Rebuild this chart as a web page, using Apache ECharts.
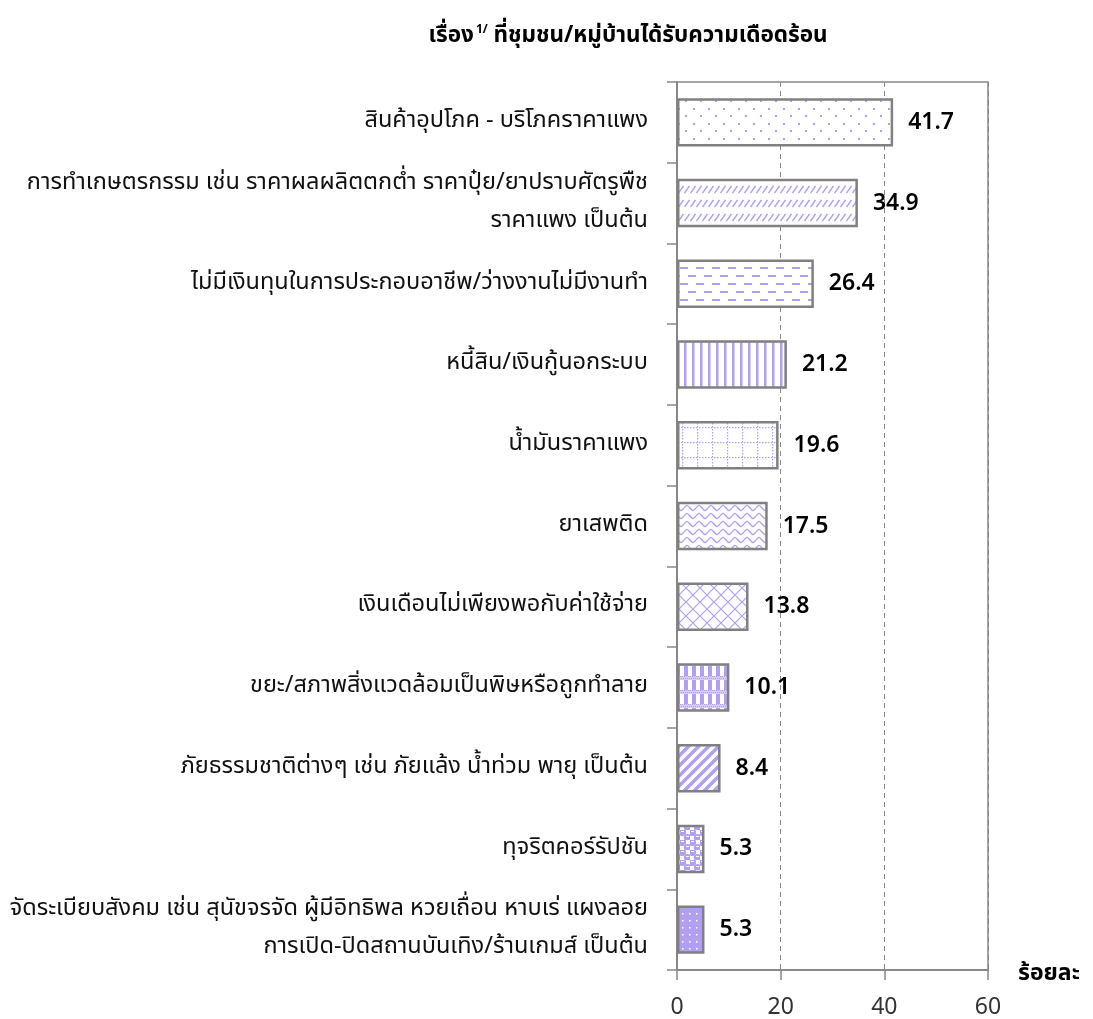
<!DOCTYPE html>
<html>
<head>
<meta charset="utf-8">
<script src="https://cdn.jsdelivr.net/npm/echarts@6/dist/echarts.min.js"></script>
<style>html,body{margin:0;padding:0;background:#fff}#c{width:1093px;height:1019px}</style>
</head>
<body>
<div id="c"></div>
<script>
const categories = [
  'สินค้าอุปโภค - บริโภคราคาแพง',
  'การทำเกษตรกรรม เช่น ราคาผลผลิตตกต่ำ ราคาปุ๋ย/ยาปราบศัตรูพืช\nราคาแพง เป็นต้น',
  'ไม่มีเงินทุนในการประกอบอาชีพ/ว่างงานไม่มีงานทำ',
  'หนี้สิน/เงินกู้นอกระบบ',
  'น้ำมันราคาแพง',
  'ยาเสพติด',
  'เงินเดือนไม่เพียงพอกับค่าใช้จ่าย',
  'ขยะ/สภาพสิ่งแวดล้อมเป็นพิษหรือถูกทำลาย',
  'ภัยธรรมชาติต่างๆ เช่น ภัยแล้ง น้ำท่วม พายุ เป็นต้น',
  'ทุจริตคอร์รัปชัน',
  'จัดระเบียบสังคม เช่น สุนัขจรจัด ผู้มีอิทธิพล หวยเถื่อน หาบเร่ แผงลอย\nการเปิด-ปิดสถานบันเทิง/ร้านเกมส์ เป็นต้น'
];
const values = [41.7, 34.9, 26.4, 21.2, 19.6, 17.5, 13.8, 10.1, 8.4, 5.3, 5.3];
const xTicks = [0, 20, 40, 60];

const P = '#b39ff2';
function tile(w, h, draw) {
  const c = document.createElement('canvas');
  c.width = w; c.height = h;
  const g = c.getContext('2d');
  g.fillStyle = '#fff'; g.fillRect(0, 0, w, h);
  g.fillStyle = P; g.strokeStyle = P;
  draw(g);
  return { image: c, repeat: 'repeat' };
}
const patterns = [
  // 1 sparse dots
  tile(15, 15, g => { g.fillRect(3, 3, 2, 2); g.fillRect(10, 10, 2, 2); }),
  // 2 dashed upward diagonal
  tile(6, 14, g => { g.lineWidth = 1.4; g.beginPath(); g.moveTo(0.5, 11); g.lineTo(5.5, 4); g.stroke(); }),
  // 3 horizontal dashes
  tile(16, 16, g => { g.fillRect(0, 3, 8, 2); g.fillRect(8, 11, 8, 2); }),
  // 4 vertical lines
  tile(8, 8, g => { g.fillRect(4, 0, 2.5, 8); }),
  // 5 dotted grid
  tile(15, 15, g => { for (let i = 0; i < 15; i += 3) { g.fillRect(7, i, 1.2, 1.5); g.fillRect(i, 7, 1.5, 1.2); } }),
  // 6 waves
  tile(12, 8, g => { g.lineWidth = 1.4; g.beginPath(); g.moveTo(0, 4); g.bezierCurveTo(3, 0.5, 3, 0.5, 6, 4); g.bezierCurveTo(9, 7.5, 9, 7.5, 12, 4); g.stroke(); }),
  // 7 diagonal crosshatch
  tile(14, 14, g => { g.lineWidth = 1.2; g.beginPath(); g.moveTo(0, 0); g.lineTo(14, 14); g.moveTo(14, 0); g.lineTo(0, 14); g.stroke(); }),
  // 8 plaid
  tile(8, 14, g => { g.fillRect(4, 0, 4, 14); g.fillStyle = '#d8ccf8'; g.fillRect(0, 4, 8, 4); g.fillStyle = P; for (let x = 0; x < 8; x += 2) { g.fillRect(x, 4, 1, 1); g.fillRect(x + 1, 6, 1, 1); } }),
  // 9 wide upward diagonal
  tile(10, 10, g => { g.lineWidth = 3.5; g.beginPath(); g.moveTo(-5, 10); g.lineTo(5, 0); g.moveTo(5, 10); g.lineTo(15, 0); g.moveTo(-5, 20); g.lineTo(15, 0); g.moveTo(-5, 10); g.lineTo(15, -10); g.stroke(); }),
  // 10 spheres
  tile(10, 10, g => { g.fillStyle = P; g.beginPath(); g.arc(2.5, 2.5, 3.6, 0, Math.PI * 2); g.fill(); g.beginPath(); g.arc(7.5, 7.5, 3.6, 0, Math.PI * 2); g.fill(); g.fillStyle = '#fff'; g.fillRect(1, 1, 3, 1); g.fillRect(6, 6, 3, 1); }),
  // 11 solid purple with white dots
  tile(7, 7, g => { g.fillRect(0, 0, 7, 7); g.fillStyle = '#fff'; g.fillRect(3, 3, 1.5, 1.5); })
];

const thai = '"Tahoma","Noto Sans Thai","Loma","Garuda","Norasi","Noto Sans","DejaVu Sans",sans-serif';
const num = '"Noto Sans","Open Sans",sans-serif';
const chart = echarts.init(document.getElementById('c'));
chart.setOption({
  animation: false,
  title: {
    text: '{b|เรื่อง}{s|1/}{b| ที่ชุมชน/หมู่บ้านได้รับความเดือดร้อน}',
    left: 623, top: 20, textAlign: 'center',
    textStyle: {
      rich: {
        b: { fontFamily: thai, fontWeight: 'bold', fontSize: 22.5, color: '#000' },
        s: { fontFamily: thai, fontWeight: 'bold', fontSize: 12, color: '#000', verticalAlign: 'top', padding: [0, 0, 12, 2] }
      }
    }
  },
  grid: {
    left: 677, right: 105, top: 82, bottom: 47,
    show: true, borderColor: '#888', borderWidth: 1.5, containLabel: false
  },
  xAxis: {
    type: 'value', min: 0, max: 60, interval: 20,
    name: 'ร้อยละ', nameLocation: 'end', nameGap: 10,
    nameTextStyle: { fontFamily: thai, fontWeight: 'bold', fontSize: 23, color: '#000', verticalAlign: 'top', padding: [-6, 0, 0, 20] },
    axisLine: { show: true, lineStyle: { color: '#888', width: 2 } },
    axisTick: { show: true, length: 10, lineStyle: { color: '#888', width: 1.5 } },
    axisLabel: { fontFamily: num, fontSize: 23, color: '#333', margin: 26,
      formatter: v => xTicks.includes(v) ? String(v) : '' },
    splitLine: { show: true, lineStyle: { color: '#888', type: [5, 4], width: 1 } }
  },
  yAxis: {
    type: 'category', data: categories, inverse: true,
    axisLine: { show: true, lineStyle: { color: '#888', width: 2 } },
    axisTick: { show: true, length: 10, lineStyle: { color: '#888', width: 1.5 } },
    axisLabel: { fontFamily: thai, fontSize: 23.5, color: '#111', margin: 29, lineHeight: 38, align: 'right' },
    splitLine: { show: false }
  },
  series: [{
    type: 'bar',
    data: values.map((v, i) => ({ value: v, itemStyle: { color: patterns[i] } })),
    barCategoryGap: '40%',
    itemStyle: { borderColor: '#808080', borderWidth: 2.5 },
    label: {
      show: true, position: 'right', distance: 15,
      fontFamily: num, fontWeight: 600, fontSize: 23, color: '#000',
      formatter: p => p.value.toFixed(1)
    }
  }]
});
</script>
</body>
</html>
